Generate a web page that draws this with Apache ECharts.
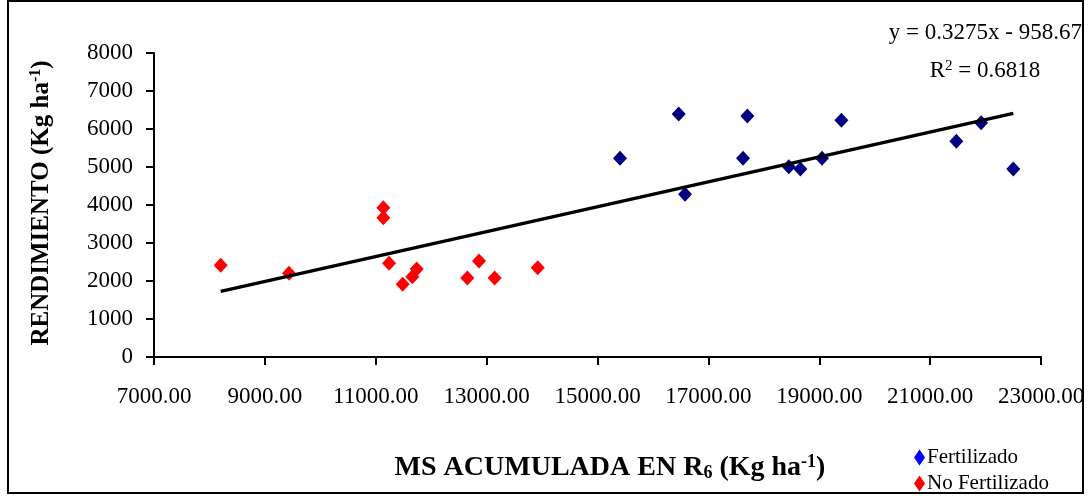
<!DOCTYPE html>
<html>
<head>
<meta charset="utf-8">
<script src="https://cdn.jsdelivr.net/npm/echarts@6/dist/echarts.min.js"></script>
<style>html,body{margin:0;padding:0;background:#fff}#c{width:1090px;height:496px}</style>
</head>
<body>
<div id="c"></div>
<script>
const fertilizado = [
  [15406, 5229], [16465, 6395], [16579, 4282], [17703, 6342], [17625, 5229],
  [18450, 5008], [18660, 4947], [19050, 5229], [19400, 6228], [21473, 5676],
  [21920, 6166], [22500, 4947]
];
const noFertilizado = [
  [8203, 2413], [9435, 2202], [11137, 3930], [11137, 3667], [11240, 2465],
  [11486, 1912], [11660, 2114], [11739, 2316], [12652, 2079], [12863, 2526],
  [13145, 2079], [13922, 2350]
];
const slope = 0.3275;
const intercept = -958.67;
const r2 = 0.6818;
const trendX = [8203, 22500];
const xTicks = { min: 7000, max: 23000, interval: 2000 };
const yTicks = { min: 0, max: 8000, interval: 1000 };

const trendData = trendX.map(x => [x, slope * x + intercept]);
const FONT = '"Liberation Serif", "Times New Roman", serif';

const legendBase = {
  left: 909, icon: 'diamond', itemWidth: 11, itemHeight: 16, itemGap: 4,
  textStyle: { color: '#000', fontFamily: FONT, fontSize: 21, padding: [0, 0, 0, -3] }
};

const chart = echarts.init(document.getElementById('c'), null, { renderer: 'canvas' });
chart.setOption({
  animation: false,
  backgroundColor: '#fff',
  grid: { left: 154, right: 49, top: 53, bottom: 139 },
  xAxis: {
    type: 'value', min: xTicks.min, max: xTicks.max, interval: xTicks.interval,
    splitLine: { show: false },
    axisLine: { onZero: false, lineStyle: { color: '#000', width: 2 } },
    axisTick: { length: 8, lineStyle: { color: '#000', width: 2 } },
    axisLabel: { color: '#000', fontFamily: FONT, fontSize: 23, margin: 28,
      formatter: v => v.toFixed(2) }
  },
  yAxis: {
    type: 'value', min: yTicks.min, max: yTicks.max, interval: yTicks.interval,
    splitLine: { show: false },
    axisLine: { show: true, lineStyle: { color: '#000', width: 2 } },
    axisTick: { show: true, length: 8, lineStyle: { color: '#000', width: 2 } },
    axisLabel: { color: '#000', fontFamily: FONT, fontSize: 23, margin: 21,
      formatter: v => String(v) }
  },
  legend: [
    Object.assign({}, legendBase, { top: 442,
      data: [{ name: 'Fertilizado', itemStyle: { color: '#0000ff' } }] }),
    Object.assign({}, legendBase, { top: 468,
      data: [{ name: 'No Fertilizado', itemStyle: { color: '#ff0000' } }] })
  ],
  series: [
    { name: 'Fertilizado', type: 'scatter', data: fertilizado, symbol: 'diamond',
      symbolSize: [14, 15], itemStyle: { color: '#000080', opacity: 1 }, z: 3 },
    { name: 'No Fertilizado', type: 'scatter', data: noFertilizado, symbol: 'diamond',
      symbolSize: [14, 15], itemStyle: { color: '#ff0000', opacity: 1 }, z: 3 },
    { name: 'Tendencia', type: 'line', data: trendData, showSymbol: false, symbol: 'none',
      lineStyle: { color: '#000', width: 3.5 }, z: 4, silent: true }
  ],
  graphic: [
    { type: 'rect', shape: { x: 8, y: 1, width: 1075, height: 492 },
      style: { fill: 'none', stroke: '#000', lineWidth: 2 }, silent: true },
    { type: 'text', x: 1082, y: 33,
      style: { text: 'y = ' + slope + 'x - ' + Math.abs(intercept).toFixed(2), fill: '#000',
        font: '23px ' + FONT, textAlign: 'right', textVerticalAlign: 'middle' } },
    { type: 'text', x: 985, y: 71,
      style: { text: '{n|R}{s|2}{n| = ' + r2.toFixed(4) + '}', fill: '#000',
        textAlign: 'center', textVerticalAlign: 'middle',
        rich: { n: { fontFamily: FONT, fontSize: 23, fill: '#000' },
                s: { fontFamily: FONT, fontSize: 15, fill: '#000', verticalAlign: 'top', padding: [0, 0, 10, 0] } } } },
    { type: 'text', x: 610, y: 468,
      style: { text: '{b|MS ACUMULADA EN R}{sub|6}{b| (Kg ha}{sup|-1}{b|)}', fill: '#000',
        textAlign: 'center', textVerticalAlign: 'middle',
        rich: { b: { fontFamily: FONT, fontSize: 28, fontWeight: 'bold', fill: '#000' },
                sub: { fontFamily: FONT, fontSize: 18, fontWeight: 'bold', fill: '#000', padding: [10, 0, 0, 0] },
                sup: { fontFamily: FONT, fontSize: 18, fontWeight: 'bold', fill: '#000', padding: [0, 0, 12, 0] } } } },
    { type: 'text', x: 42, y: 203, rotation: Math.PI / 2,
      style: { text: '{b|RENDIMIENTO (Kg ha}{sup|-1}{b|)}', fill: '#000',
        textAlign: 'center', textVerticalAlign: 'middle',
        rich: { b: { fontFamily: FONT, fontSize: 25, fontWeight: 'bold', fill: '#000' },
                sup: { fontFamily: FONT, fontSize: 16, fontWeight: 'bold', fill: '#000', padding: [0, 0, 12, 0] } } } }
  ]
});
</script>
</body>
</html>
